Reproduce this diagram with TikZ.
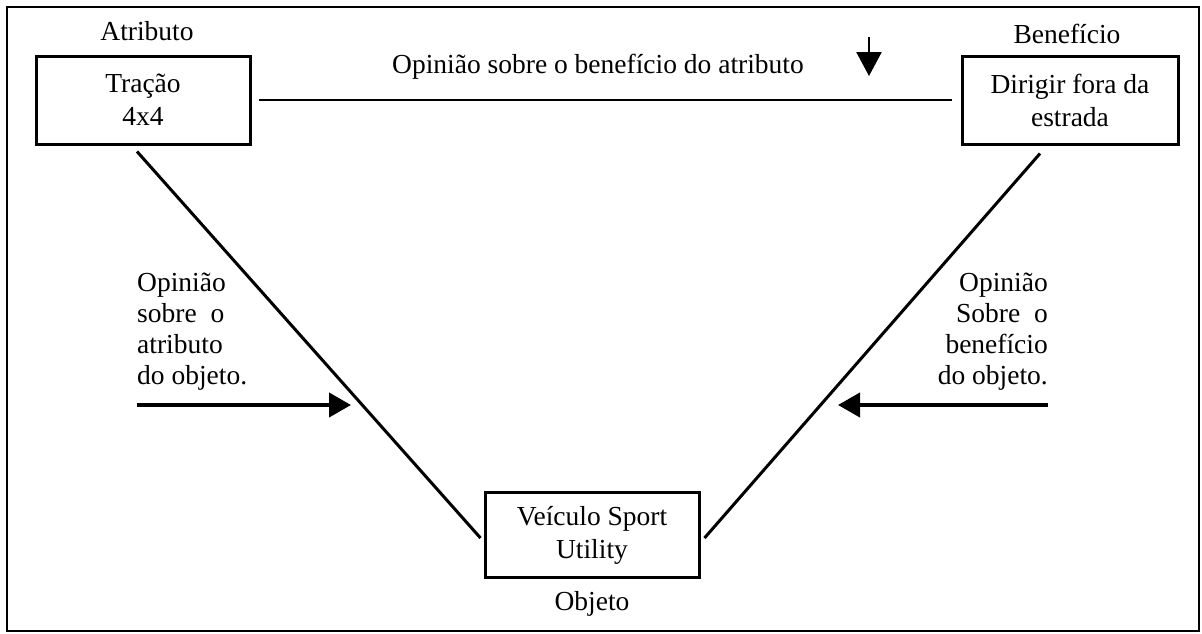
\documentclass[tikz,border=0pt]{standalone}
\usepackage{fontspec}
\setmainfont{Liberation Serif}
\usetikzlibrary{arrows.meta}

\begin{document}
\begin{tikzpicture}[x=1pt,y=-1pt,
        caixa/.style={draw,line width=3pt,minimum width=214pt,minimum height=88pt,
            align=center,inner sep=0pt,font=\fontsize{27.5}{33}\selectfont},
        rotulo/.style={inner sep=0pt,font=\fontsize{27.5}{31}\selectfont},
        linha/.style={line width=3pt},
        seta/.style={line width=4pt,-{Triangle[length=22pt,width=24pt]}}]

        \useasboundingbox (0,0) rectangle (1202,633);
        \draw[line width=2.5pt] (7,7) rectangle (1199,631);

        % caixas
        \node[caixa] (trac) at (143,100) {Tração\\4x4};
        \node[caixa,minimum width=216pt] (dir) at (1070,100) {Dirigir fora da\\estrada};
        \node[caixa,minimum height=85pt] (suv) at (592,535) {Veículo Sport\\Utility};

        % rotulos
        \node[rotulo,anchor=base] (atrlbl) at (147,40) {Atributo};
        \node[rotulo,anchor=base] (benlbl) at (1067,43) {Benefício};
        \node[rotulo,anchor=base] (objlbl) at (592,610) {Objeto};
        \node[rotulo,anchor=base] (opbenatr) at (598,73) {Opinião sobre o benefício do atributo};
        \node[rotulo,align=left,anchor=north west] (opatr) at (137,273)
            {Opinião\\sobre\ \ o\\atributo\\do objeto.};
        \node[rotulo,align=right,anchor=north east] (opben) at (1048,273)
            {Opinião\\Sobre\ \ o\\benefício\\do objeto.};

        \coordinate (setatopo) at (869,37);
        \coordinate (setabase) at (869,76);
        \coordinate (setaesq1) at (137,405);
        \coordinate (setaesq2) at (351,405);
        \coordinate (setadir1) at (1048,405);
        \coordinate (setadir2) at (838,405);

        % ligacoes
        \draw[line width=2pt,shorten <=7pt,shorten >=9pt] (trac.east) -- (dir.west);
        \draw[linha] ([xshift=-6pt,yshift=-6pt]trac.south) -- ([xshift=-3pt,yshift=-3pt]suv.west);
        \draw[linha] ([xshift=-30pt,yshift=-8pt]dir.south) -- ([xshift=4pt,yshift=-3pt]suv.east);

        % setas
        \draw[line width=2.5pt,-{Triangle[length=24pt,width=25pt]}] (setatopo) -- (setabase);
        \draw[seta] (setaesq1) -- (setaesq2);
        \draw[seta] (setadir1) -- (setadir2);

    \end{tikzpicture}
\end{document}
